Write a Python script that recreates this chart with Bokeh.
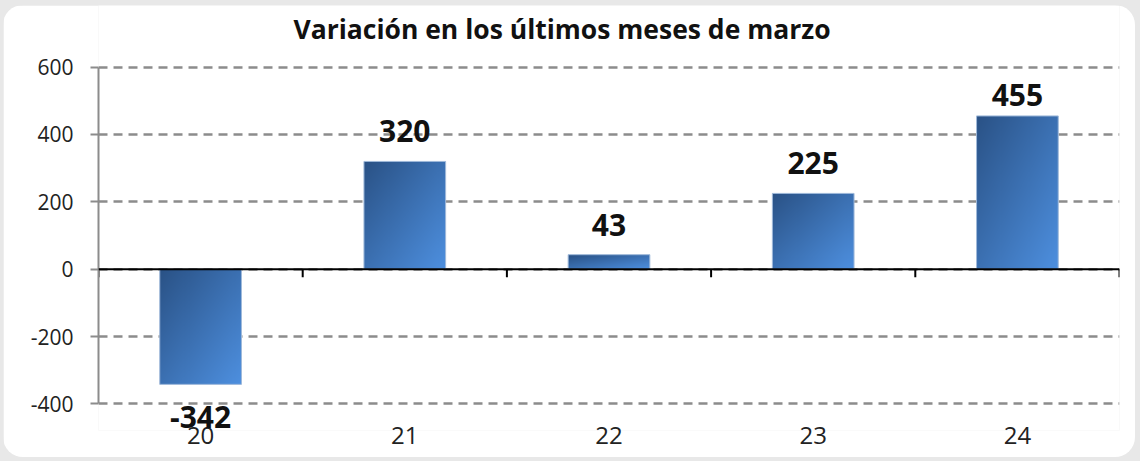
import numpy as np
from bokeh.plotting import figure
from bokeh.models import (Range1d, Span, FixedTicker, GlobalInlineStyleSheet,
                          ColumnDataSource, LabelSet, Label)
from bokeh.core.properties import value
from bokeh.embed import file_html
from bokeh.resources import INLINE

# ---- data ----
categories = ["20", "21", "22", "23", "24"]
values = [-342, 320, 43, 225, 455]
y_ticks = [-400, -200, 0, 200, 400, 600]
title_text = "Variación en los últimos meses de marzo"

FONT = "Open Sans"
W, H = 1132, 452
Y0, Y1 = -479, 783
MB_T, MB_B, MB_L, MB_R = 0, 27, 95, 16
frame_h = H - MB_T - MB_B
ppu = frame_h / (Y1 - Y0)  # pixels per data unit

n = len(categories)
centers = [i + 0.5 for i in range(n)]
bar_w = 0.4

p = figure(width=W, height=H, output_backend="svg", toolbar_location=None,
           title=None,
           x_range=Range1d(0, n), y_range=Range1d(Y0, Y1),
           min_border_left=MB_L, min_border_right=MB_R,
           min_border_top=MB_T, min_border_bottom=MB_B)
p.outline_line_color = None
p.background_fill_color = "white"
p.border_fill_color = "white"
p.styles = {"border-radius": "20px", "overflow": "hidden"}
p.stylesheets = [GlobalInlineStyleSheet(
    css="html body { background: #e8e8e8; padding: 5px 0 0 3px; margin: 0; }")]

# title (drawn as a label inside the tall frame)
p.add_layout(Label(x=n / 2, y=Y1 - 23 / ppu, x_offset=-47, text=title_text,
                   text_align="center", text_baseline="middle",
                   text_font=FONT, text_font_style="bold",
                   text_font_size="26.5px", text_color="#111111"))

# grid
p.xgrid.visible = False
p.ygrid.ticker = FixedTicker(ticks=y_ticks)
p.ygrid.grid_line_color = "#8c8c8c"
p.ygrid.grid_line_width = 2.5
p.ygrid.grid_line_dash = "9 6"

# y axis
p.yaxis.ticker = FixedTicker(ticks=y_ticks)
p.yaxis.bounds = (y_ticks[0], y_ticks[-1])
p.yaxis.major_label_overrides = {t: str(t) for t in y_ticks}
p.yaxis.axis_line_color = "#8c8c8c"
p.yaxis.axis_line_width = 2
p.yaxis.major_tick_line_color = "#8c8c8c"
p.yaxis.major_tick_line_width = 2
p.yaxis.major_tick_out = 8
p.yaxis.major_tick_in = 0
p.yaxis.minor_tick_line_color = None
p.yaxis.major_label_text_font = FONT
p.yaxis.major_label_text_font_size = "21px"
p.yaxis.major_label_text_color = "#222222"
p.yaxis.major_label_standoff = 17

# x axis (labels only)
p.xaxis.ticker = FixedTicker(ticks=centers)
p.xaxis.major_label_overrides = {c: cat for c, cat in zip(centers, categories)}
p.xaxis.axis_line_color = None
p.xaxis.major_tick_line_color = None
p.xaxis.minor_tick_line_color = None
p.xaxis.major_label_text_font = FONT
p.xaxis.major_label_text_font_size = "24px"
p.xaxis.major_label_text_color = "#222222"
p.xaxis.major_label_standoff = -10

# gradient bars
dark = np.array([42, 82, 134], dtype=float)
light = np.array([78, 144, 224], dtype=float)
nx = 80
for c, v in zip(centers, values):
    ny = max(2, int(round(abs(v) * ppu)))
    u = np.linspace(0, 1, nx)[None, :]
    vv = np.linspace(1, 0, ny)[:, None]  # row 0 is bottom
    t = (u + vv) / 2.0
    img = np.empty((ny, nx), dtype=np.uint32)
    view = img.view(dtype=np.uint8).reshape((ny, nx, 4))
    for k in range(3):
        view[:, :, k] = np.clip(dark[k] * (1 - t) + light[k] * t, 0, 255).astype(np.uint8)
    view[:, :, 3] = 255
    y_bottom = min(0, v)
    p.image_rgba(image=[img], x=c - bar_w / 2, y=y_bottom, dw=bar_w, dh=abs(v))

src = ColumnDataSource(dict(x=centers, top=values))
p.vbar(x="x", top="top", bottom=0, width=bar_w, source=src,
       fill_color=None, line_color="#9fb9da", line_width=1)

# zero line and category boundary ticks
p.add_layout(Span(location=0, dimension="width", line_color="black", line_width=2))
bounds = list(range(n + 1))
tick_len = 8 / ppu
p.segment(x0=bounds, y0=[0] * len(bounds), x1=bounds, y1=[-tick_len] * len(bounds),
          line_color="black", line_width=2)

# data labels
y_top = y_ticks[-1]
gap_pos = 30 / ppu
gap_neg = 33 / ppu
top_clamp = y_top + 2 - 29 / ppu
label_y = [min(v + gap_pos, top_clamp) if v >= 0 else v - gap_neg for v in values]
lsrc = ColumnDataSource(dict(x=centers, y=label_y, t=[str(v) for v in values]))
labels = LabelSet(x="x", y="y", text="t", source=lsrc,
                  text_align="center", text_baseline="middle",
                  text_font=value(FONT), text_font_style="bold", text_font_size="30px",
                  text_color="#111111")
p.add_layout(labels)

open("out.html", "w").write(file_html(p, INLINE))
